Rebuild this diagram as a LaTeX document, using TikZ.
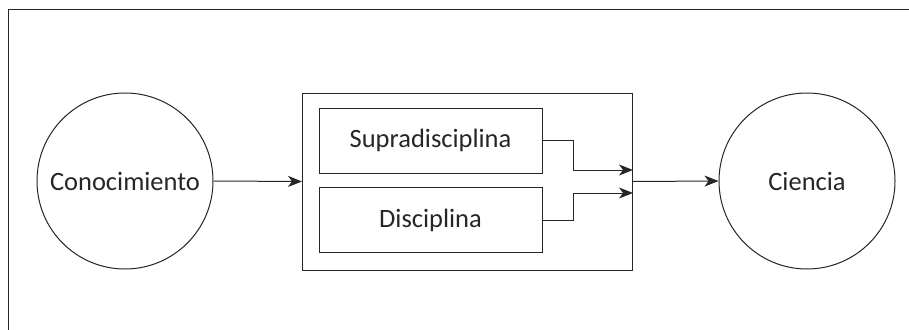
\documentclass[tikz,border=0pt]{standalone}
\usepackage{fontspec}
\setmainfont{Carlito}
\usetikzlibrary{arrows.meta, positioning}
\tikzset{
  circ/.style={draw, circle, minimum size=176pt, inner sep=0pt, font=\fontsize{26.5}{32}\selectfont},
  inbox/.style={draw, rectangle, minimum width=223pt, minimum height=65pt, inner sep=0pt, font=\fontsize{26.5}{32}\selectfont},
  outbox/.style={draw, rectangle, minimum width=330pt, minimum height=177pt, inner sep=0pt},
  conn/.style={-{Stealth[length=14pt, width=11pt, inset=4pt]}}
}

\begin{document}
\begin{tikzpicture}[x=1pt, y=-1pt, line width=1pt, color=black!85]
\useasboundingbox (0,0) rectangle (909,329);
\draw[line width=1.4pt] (8.5,340) -- (8.5,9.5) -- (920,9.5);
	\node[circ] (con) at (125,181) {Conocimiento};
	\node[circ] (cie) at (807,181) {Ciencia};
	\node[outbox] (grp) at (467.5,181.5) {};
	\node[inbox] (sup) at (430.5,140.5) {Supradisciplina};
	\node[inbox] (dis) at (430.5,220) {Disciplina};
		\coordinate (s1) at (573.5,140.5);
		\coordinate (d1) at (573.5,220);
	\draw[conn] (con.east) -- (grp.west);
	\draw[conn] (grp.east) -- (cie.west);
	\draw[conn] (sup.east) -- (s1) |- (grp.east |- 0,170);
	\draw[conn] (dis.east) -- (d1) |- (grp.east |- 0,193);
\end{tikzpicture}
\end{document}
